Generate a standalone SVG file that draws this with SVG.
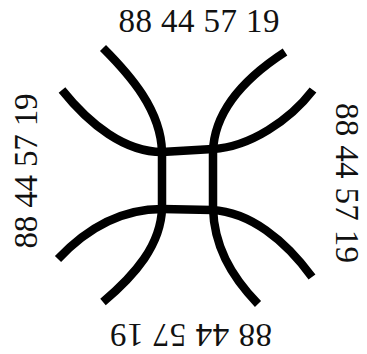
<svg xmlns="http://www.w3.org/2000/svg" width="367" height="354" viewBox="0 0 367 354">
<style>
.lbl{font-family:"Liberation Serif","Times New Roman",serif;font-size:33px;fill:#111;text-anchor:middle}
.c{fill:none;stroke:#000;stroke-width:8.5;stroke-linecap:butt;stroke-linejoin:round}
</style>
<rect width="367" height="354" fill="#fff"/>
<g id="connectors">
<path id="curveA" class="c" d="M103,48 C130,75 161,110 162,152 L162,208 C161,245 135,275 103,302"/>
<path id="curveC" class="c" d="M285,52 C245,78 214,110 213,152 L213,208 C214,245 230,275 258,304"/>
<path id="curveB" class="c" d="M62,90 C90,125 125,152 162,152 L213,149 C250,147 290,120 313,90"/>
<path id="curveD" class="c" d="M58,259 C90,225 125,209 162,209 L212,210 C250,212 285,240 312,277"/>
</g>
<g id="label-top"><text class="lbl" x="199" y="32" textLength="161">88 44 57 19</text></g>
<g id="label-left"><text class="lbl" transform="translate(37,171) rotate(-90)" textLength="155">88 44 57 19</text></g>
<g id="label-right"><text class="lbl" transform="translate(336,183) rotate(90)" textLength="160">88 44 57 19</text></g>
<g id="label-bottom"><text class="lbl" transform="translate(191,324) rotate(180)" textLength="162">88 44 57 19</text></g>
</svg>
